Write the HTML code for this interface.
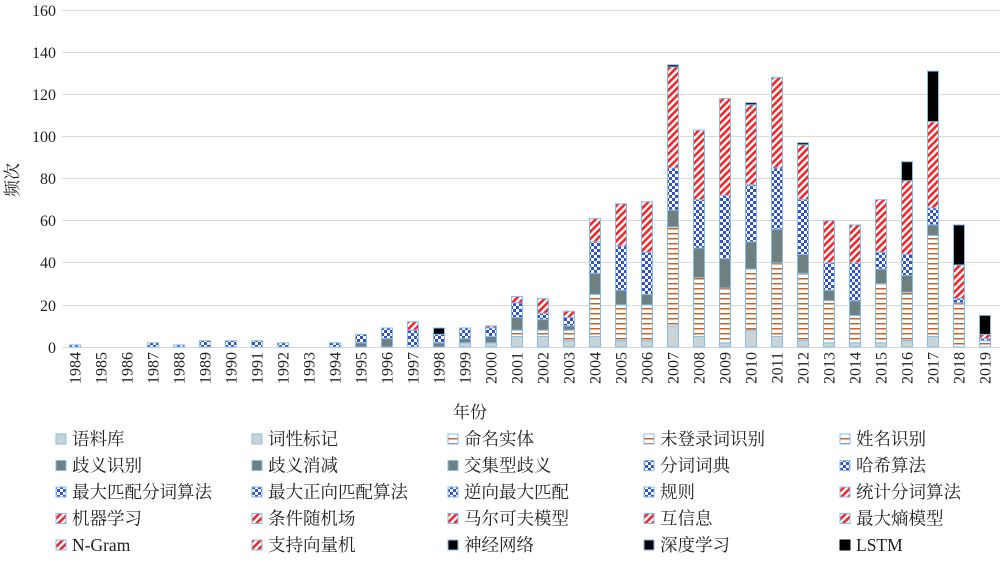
<!DOCTYPE html><html><head><meta charset="utf-8"><style>
body{margin:0;background:#fff;}
svg text{font-family:"Liberation Serif","Noto Serif CJK SC",serif;fill:#222;}
</style></head><body>
<svg width="1000" height="558" xmlns="http://www.w3.org/2000/svg">
<defs>
<pattern id="po" width="4" height="5" patternUnits="userSpaceOnUse"><rect width="4" height="5" fill="#fff"/><rect y="3" width="4" height="1.5" fill="#c8642a"/></pattern>
<pattern id="pb" width="6" height="6" patternUnits="userSpaceOnUse"><rect width="6" height="6" fill="#fff"/><rect width="3" height="3" fill="#2f52d6"/><rect x="3" y="3" width="3" height="3" fill="#2f52d6"/></pattern>
<pattern id="pr" width="5" height="5" patternUnits="userSpaceOnUse" patternTransform="rotate(45)"><rect width="5" height="5" fill="#fff"/><rect width="2.6" height="5" fill="#f0282a"/></pattern>
</defs>
<g stroke="#d9d9d9" stroke-width="1">
<line x1="62" x2="1000" y1="10.5" y2="10.5"/><line x1="62" x2="1000" y1="52.5" y2="52.5"/><line x1="62" x2="1000" y1="94.5" y2="94.5"/><line x1="62" x2="1000" y1="136.5" y2="136.5"/><line x1="62" x2="1000" y1="178.5" y2="178.5"/><line x1="62" x2="1000" y1="220.5" y2="220.5"/><line x1="62" x2="1000" y1="262.5" y2="262.5"/><line x1="62" x2="1000" y1="305.5" y2="305.5"/><line x1="62" x2="1000" y1="347.5" y2="347.5"/>
</g>
<g font-size="16" text-anchor="end">
<text x="56" y="16">160</text><text x="56" y="58">140</text><text x="56" y="100">120</text><text x="56" y="142">100</text><text x="56" y="184">80</text><text x="56" y="226">60</text><text x="56" y="268">40</text><text x="56" y="311">20</text><text x="56" y="353">0</text>
</g>
<text font-size="17" transform="translate(18,180) rotate(-90)" text-anchor="middle">频次</text>
<text font-size="17" x="470" y="418" text-anchor="middle">年份</text>
<g id="bars" stroke="#86bdef" stroke-width="1"></g>
<g id="xl" font-size="16"></g>
<g id="leg" font-size="17.5"></g>
</svg>
<script>
var fills=['#c9d4d4','url(#po)','#6f8081','url(#pb)','url(#pr)','#000'];
var d={1984:[0,0,0,1,1,1],1987:[0,0,0,2,2,2],1988:[0,0,0,1,1,1],1989:[0,0,0,3,3,3],1990:[0,0,0,3,3,3],1991:[0,0,0,3,3,3],1992:[0,0,0,2,2,2],1994:[0,0,0,2,2,2],
1995:[0,0,2,6,6,6],1996:[0,0,4,9,9,9],1997:[0,0,0,8,12,12],1998:[0,0,2,6,6,9],1999:[2,2,4,9,9,9],2000:[2,2,5,9,10,10],
2001:[5,8,14,21,24,24],2002:[5,8,13,16,23,23],2003:[3,8,10,14,17,17],2004:[5,25,35,50,61,61],2005:[3,20,27,48,68,68],2006:[3,20,25,45,69,69],
2007:[10,57,65,85,133,134],2008:[5,33,47,70,103,103],2009:[2,28,42,72,118,118],2010:[8,37,50,77,115,116],2011:[5,40,56,85,128,128],2012:[3,35,44,70,96,97],
2013:[2,22,27,40,60,60],2014:[2,15,22,40,58,58],2015:[2,30,37,45,70,70],2016:[3,26,34,44,79,88],2017:[5,53,58,66,107,131],2018:[0,21,21,23,39,58],2019:[0,3,3,4,6,15]};
var s='',xl='';
for(var y=1984;y<=2019;y++){var cx=75+(y-1984)*26;
xl+='<text transform="translate('+(cx+5.5)+',352) rotate(-90)" text-anchor="end">'+y+'</text>';
var v=d[y];if(!v)continue;var prev=0;
for(var i=0;i<6;i++){var h=v[i]-prev;if(h>0){var y1=347-v[i]*2.106,hh=h*2.106;s+='<rect x="'+(cx-5.5)+'" y="'+y1.toFixed(1)+'" width="11" height="'+hh.toFixed(1)+'" fill="'+fills[i]+'"/>';}prev=v[i];}}
document.getElementById('bars').innerHTML=s;document.getElementById('xl').innerHTML=xl;
var L=[['语料库',0],['词性标记',0],['命名实体',1],['未登录词识别',1],['姓名识别',1],['歧义识别',2],['歧义消减',2],['交集型歧义',2],['分词词典',3],['哈希算法',3],['最大匹配分词算法',3],['最大正向匹配算法',3],['逆向最大匹配',3],['规则',3],['统计分词算法',4],['机器学习',4],['条件随机场',4],['马尔可夫模型',4],['互信息',4],['最大熵模型',4],['N-Gram',4],['支持向量机',4],['神经网络',5],['深度学习',5],['LSTM',5]];
var g='';L.forEach(function(e,k){var c=k%5,r=Math.floor(k/5);var x=[56,252,448,644,840][c],yy=434+r*26.5;
g+='<rect x="'+x+'" y="'+yy+'" width="10" height="10" fill="'+fills[e[1]]+'" stroke="'+(k==24?'#000':'#86bdef')+'"/><text x="'+(x+16)+'" y="'+(yy+11)+'">'+e[0]+'</text>';});
document.getElementById('leg').innerHTML=g;
</script>
</body></html>
